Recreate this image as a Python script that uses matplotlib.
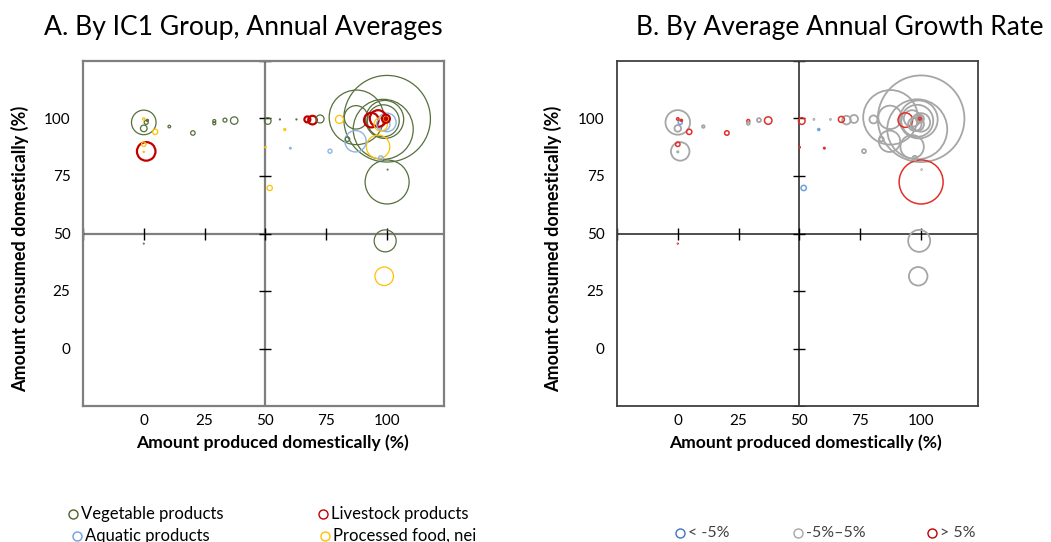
import matplotlib
matplotlib.use('Agg')
import matplotlib.pyplot as plt
from matplotlib.lines import Line2D

plt.rcParams['font.family'] = ['Lato', 'DejaVu Sans']

# ---------------- data ----------------
# share of supply produced domestically (%), share consumed domestically (%)
produced = [0, 0, 1, 0, 1.5, 4.7, 0, 1, 0, 10.5, 20.2, 29, 29, 33.4, 37.2,
            51, 56, 62.8, 58, 50.1, 60.3, 51.8, 67.3, 69.4, 72.5, 80.5, 76.6,
            100.1, 87.5, 87.3, 98.5, 99.1, 98.5, 93.6, 96.4, 99.6, 99.6, 99.6,
            100, 98.5, 97.5, 96.4, 87.1, 83.8, 97.5, 100.1, 99.3, 98.9, 0, 100.3]
consumed = [98.3, 95.7, 98.3, 99.8, 99.2, 94.2, 88.8, 85.7, 85.5, 96.5, 93.7,
            98.9, 97.9, 99.3, 99.1, 98.9, 99.6, 99.6, 95.2, 87.5, 87.1, 69.8,
            99.6, 99.3, 99.8, 99.6, 85.8, 99.9, 100.5, 100.5, 95.3, 99.6, 99.0,
            99.3, 100.0, 99.9, 99.9, 99.9, 98.3, 97.5, 97.5, 87.7, 90.1, 91.0,
            82.8, 72.4, 46.8, 31.4, 45.6, 77.8]
# bubble size (relative annual volume)
volume = [151, 11, 4, 1.5, 1, 7, 5, 86, 0.4, 1.7, 5, 2.2, 2.2, 4, 14,
          11, 0.25, 0.25, 1, 0.5, 0.6, 7, 9, 18.5, 16, 16, 4,
          1875, 745, 137, 900, 361, 256, 53, 69, 16, 5, 1.7,
          86, 45, 45, 137, 114, 5, 5, 484, 121, 86, 0.16, 0.16]
group = ['V', 'V', 'V', 'P', 'V', 'P', 'P', 'L', 'P', 'V', 'V', 'V', 'V', 'V', 'V',
         'V', 'V', 'V', 'P', 'P', 'Q', 'P', 'L', 'L', 'V', 'P', 'Q',
         'V', 'V', 'V', 'V', 'V', 'V', 'L', 'L', 'L', 'P', 'L',
         'Q', 'Q', 'P', 'P', 'Q', 'V', 'Q', 'V', 'V', 'P', 'V', 'V']
growth = ['mid', 'mid', 'lo', 'hi', 'hi', 'hi', 'hi', 'mid', 'mid', 'mid', 'hi', 'hi', 'mid', 'mid', 'hi',
          'hi', 'mid', 'mid', 'lo', 'hi', 'hi', 'lo', 'hi', 'mid', 'mid', 'mid', 'mid',
          'mid', 'mid', 'mid', 'mid', 'mid', 'mid', 'hi', 'mid', 'mid', 'mid', 'hi',
          'mid', 'mid', 'mid', 'mid', 'mid', 'mid', 'mid', 'hi', 'mid', 'mid', 'hi', 'mid']

group_names = {'V': 'Vegetable products', 'L': 'Livestock products',
               'Q': 'Aquatic products', 'P': 'Processed food, nei'}
growth_names = {'lo': '< -5%', 'mid': '-5%\u20135%', 'hi': '> 5%'}

tick_vals = [0, 25, 50, 75, 100]
tick_marks = [-25, 0, 25, 50, 75, 100, 125]

title_A = 'A. By IC1 Group, Annual Averages'
title_B = 'B. By Average Annual Growth Rate'
xlabel = 'Amount produced domestically (%)'
ylabel = 'Amount consumed domestically (%)'

# ---------------- styles ----------------
colA = {'V': '#56703C', 'L': '#C00000', 'Q': '#8DB4E2', 'P': '#FFC000'}
lwA = {'V': 0.9, 'L': 1.6, 'Q': 1.0, 'P': 0.9}
colB = {'lo': '#6FA0DC', 'mid': '#A6A6A6', 'hi': '#E0302A'}
lwB = {'lo': 1.1, 'mid': 1.3, 'hi': 1.1}
legA_col = {'V': '#4F6228', 'L': '#C00000', 'Q': '#6FA0DC', 'P': '#FFC000'}
legB_col = {'lo': '#4472C4', 'mid': '#A6A6A6', 'hi': '#C00000'}

W, H, DPI = 1051, 542, 100
fig = plt.figure(figsize=(W / DPI, H / DPI), dpi=DPI)


def box(l, t, r, b):
    return [l / W, 1 - b / H, (r - l) / W, (b - t) / H]


axA = fig.add_axes(box(83, 61, 444, 406))
axB = fig.add_axes(box(617, 61, 978, 406))

# scale: relative volume -> marker area in points^2 (radius in px = sqrt(volume))
px2pt = 72.0 / DPI


def sizes(vals):
    return [(2 * (v ** 0.5) * px2pt) ** 2 for v in vals]


def setup(ax, lc, lw):
    ax.set_xlim(-25, 123.5)
    ax.set_ylim(-25, 125)
    ax.set_xticks(tick_vals)
    ax.set_yticks(tick_vals)
    ax.tick_params(length=0, labelsize=11, colors='#000000')
    ax.tick_params(axis='y', pad=9)
    ax.tick_params(axis='x', pad=6)
    for s in ax.spines.values():
        s.set_color(lc)
        s.set_linewidth(lw)
    ax.axvline(50, color=lc, lw=lw, zorder=1)
    ax.axhline(50, color=lc, lw=lw, zorder=1)
    ax.plot(tick_marks, [50] * len(tick_marks), ls='none', marker='|', ms=9,
            mew=1.0, color='#000000', zorder=1.5)
    ax.plot([50] * len(tick_marks), tick_marks, ls='none', marker='_', ms=9,
            mew=1.0, color='#000000', zorder=1.5)


setup(axA, '#7F7F7F', 1.6)
setup(axB, '#404040', 1.3)

s_all = sizes(volume)
order = sorted(range(len(volume)), key=lambda i: -volume[i])
for i in order:
    axA.scatter(produced[i], consumed[i], s=s_all[i], facecolors='none',
                edgecolors=colA[group[i]], linewidths=lwA[group[i]], zorder=3)
    axB.scatter(produced[i], consumed[i], s=s_all[i], facecolors='none',
                edgecolors=colB[growth[i]], linewidths=lwB[growth[i]], zorder=3)

# ---------------- texts ----------------
renderer = fig.canvas.get_renderer()


def fit(t, target_len, vertical=False):
    ext = t.get_window_extent(renderer)
    cur = ext.height if vertical else ext.width
    t.set_fontsize(t.get_fontsize() * target_len / cur)


def ftxt(x, y, s, **kw):
    return fig.text(x / W, 1 - y / H, s, **kw)


tA = ftxt(243, 28, title_A, ha='center', va='center', fontsize=16)
fit(tA, 400)
tB = ftxt(840, 28, title_B, ha='center', va='center', fontsize=16)
fit(tB, 409)

for cx, cy in [(272, 443), (805, 443)]:
    t = ftxt(cx, cy, xlabel, ha='center', va='center', fontsize=11, fontweight='bold')
    fit(t, 271)
for cx in [20, 553]:
    t = ftxt(cx, 249, ylabel, ha='center', va='center', fontsize=11,
             fontweight='bold', rotation=90)
    fit(t, 285, vertical=True)

# legends
legA = [('V', 73, 514), ('L', 323, 514), ('Q', 77, 536), ('P', 325, 536)]
for key, cx, cy in legA:
    fig.add_artist(Line2D([cx / W], [1 - cy / H], marker='o', ms=6.5, mfc='none',
                          mec=legA_col[key], mew=1.0, ls='none'))
    ftxt(cx + 8, cy, group_names[key], ha='left', va='center', fontsize=12)
legB = [('lo', 680, 533), ('mid', 798, 533), ('hi', 932, 533)]
for key, cx, cy in legB:
    fig.add_artist(Line2D([cx / W], [1 - cy / H], marker='o', ms=6.5, mfc='none',
                          mec=legB_col[key], mew=1.0, ls='none'))
    ftxt(cx + 8, cy, growth_names[key], ha='left', va='center', fontsize=11.5,
         color='#404040')

fig.savefig('out.png', dpi=DPI)
